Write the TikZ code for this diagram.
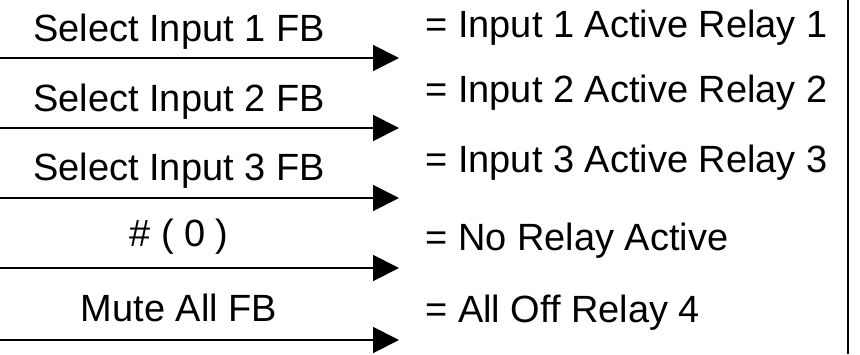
\documentclass[tikz,border=0pt]{standalone}
\usepackage{fontspec}
\setmainfont{Liberation Sans}
\usetikzlibrary{arrows.meta}
\tikzset{
  lab/.style={inner sep=0pt,font=\fontsize{27}{32}\selectfont},
  sig/.style={-{Triangle[length=6.5mm,width=6.5mm]},line width=1.4pt}
}
\begin{document}
\begin{tikzpicture}[res/.style={lab,anchor=base west},cmd/.style={lab,anchor=base}]
\useasboundingbox (0,0) rectangle (21.5,-8.85);
% commands sent (left)
\node[cmd] (c1) at (4.475,-1.04) {Select Input 1 FB};
\node[cmd] (c2) at (4.475,-2.78) {Select Input 2 FB};
\node[cmd] (c3) at (4.475,-4.5) {Select Input 3 FB};
\node[cmd] (c4) at (4.475,-6.17) {\# ( 0 )};
\node[cmd] (c5) at (4.475,-8.04) {Mute All FB};
% resulting state (right)
\node[res] (r1) at (10.63,-0.93) {= Input 1 Active Relay 1};
\node[res] (r2) at (10.63,-2.55) {= Input 2 Active Relay 2};
\node[res] (r3) at (10.63,-4.32) {= Input 3 Active Relay 3};
\node[res] (r4) at (10.63,-6.25) {= No Relay Active};
\node[res] (r5) at (10.63,-8.05) {= All Off Relay 4};
\foreach \i/\y in {1/-1.45,2/-3.2,3/-4.95,4/-6.7,5/-8.5}{
  \coordinate (s\i) at (0,\y);
  \coordinate (e\i) at (9.975,\y);
  \draw[sig] (s\i)--(e\i);
}
\coordinate (top) at (21.2,0); \coordinate (bot) at (21.2,-8.85);
\draw[line width=2pt] (top)--(bot);
\end{tikzpicture}
\end{document}
